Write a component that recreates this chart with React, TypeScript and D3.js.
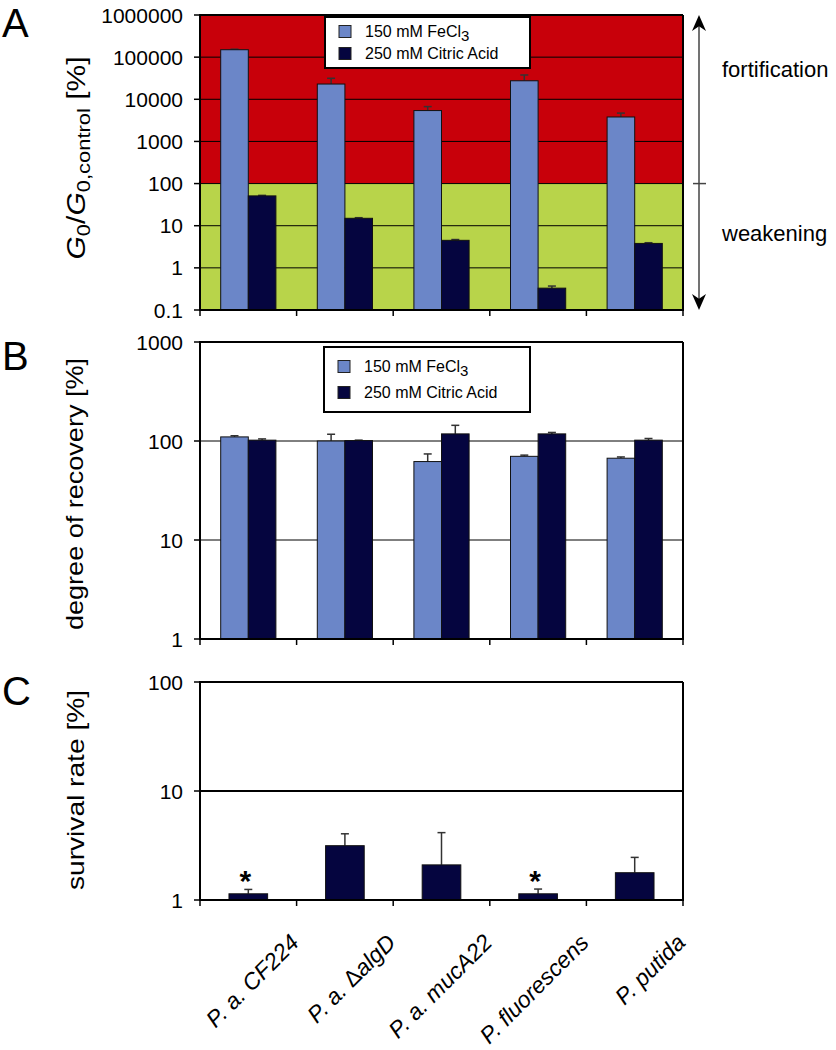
import React from "react";
import * as d3 from "d3";

// ---------- data ----------
const categories = ["P. a. CF224", "P. a. ΔalgD", "P. a. mucA22", "P. fluorescens", "P. putida"];
const seriesNames = ["150 mM FeCl3", "250 mM Citric Acid"];

const fecl3A = [150000, 23000, 5400, 27500, 3800];
const fecl3AErr = [4000, 8500, 1300, 10200, 900];
const citricA = [51, 15, 4.5, 0.33, 3.8];
const citricAErr = [1.5, 0.5, 0.2, 0.04, 0.15];

const fecl3B = [110, 100, 62, 70, 67];
const fecl3BErr = [3, 17, 12, 2, 2];
const citricB = [102, 101, 118, 118, 102];
const citricBErr = [3, 1, 26, 4, 4];

const survivalC = [1.14, 3.15, 2.1, 1.14, 1.78];
const survivalCErr = [0.11, 0.9, 2.05, 0.12, 0.68];
const significantC = [true, false, false, true, false];

const ticksA = [0.1, 1, 10, 100, 1000, 10000, 100000, 1000000];
const tickLabelsA = ["0.1", "1", "10", "100", "1000", "10000", "100000", "1000000"];
const ticksB = [1, 10, 100, 1000];
const tickLabelsB = ["1", "10", "100", "1000"];
const ticksC = [1, 10, 100];
const tickLabelsC = ["1", "10", "100"];

// ---------- styles ----------
const FONT = "'Liberation Sans', Arial, Helvetica, sans-serif";
const LIGHT = "#6b86c8";
const DARK = "#05053f";
const RED = "#c8000a";
const GREEN = "#b8d44a";

const X0 = 200;
const X1 = 683;

const xScale = d3.scaleBand<string>().domain(categories).range([X0, X1]).paddingInner(0).paddingOuter(0);
const sub2 = d3.scaleBand<string>().domain(seriesNames).range([0, xScale.bandwidth()]).paddingInner(0).paddingOuter(0.75);
const sub1 = d3.scaleBand<string>().domain([seriesNames[1]]).range([0, xScale.bandwidth()]).paddingInner(0).paddingOuter(0.75);

const yA = d3.scaleLog().domain([0.1, 1000000]).range([310, 15]);
const yB = d3.scaleLog().domain([1, 1000]).range([639, 342]);
const yC = d3.scaleLog().domain([1, 100]).range([900, 682]);

type Bars = { values: number[]; errs: number[]; color: string; series: string; band: d3.ScaleBand<string> };

function BarsG({ bars, y, base }: { bars: Bars; y: d3.ScaleLogarithmic<number, number>; base: number }) {
  const w = bars.band.bandwidth();
  return (
    <g>
      {categories.map((c, i) => {
        const x = (xScale(c) as number) + (bars.band(bars.series) as number);
        const top = y(bars.values[i]);
        const et = y(bars.values[i] + bars.errs[i]);
        const cx = x + w / 2;
        return (
          <g key={c}>
            <line x1={cx} x2={cx} y1={top} y2={et} stroke="#333" strokeWidth={1.5} />
            <line x1={cx - 4} x2={cx + 4} y1={et} y2={et} stroke="#333" strokeWidth={1.5} />
            <rect x={x} y={top} width={w} height={base - top} fill={bars.color} stroke="#111" strokeWidth={1} />
          </g>
        );
      })}
    </g>
  );
}

function YAxis({ y, ticks, labels, grid, gridWidth }: { y: d3.ScaleLogarithmic<number, number>; ticks: number[]; labels: string[]; grid: boolean; gridWidth?: (v: number) => number }) {
  return (
    <g>
      {ticks.map((t, i) => (
        <g key={t}>
          {grid && i > 0 && i < ticks.length - 1 && (
            <line x1={X0} x2={X1} y1={y(t)} y2={y(t)} stroke="#000" strokeWidth={gridWidth ? gridWidth(t) : 1} />
          )}
          <line x1={X0 - 6} x2={X0} y1={y(t)} y2={y(t)} stroke="#000" strokeWidth={1.5} />
          <text x={183} y={y(t)} dy="0.36em" textAnchor="end" fontSize={21} fontFamily={FONT}>
            {labels[i]}
          </text>
        </g>
      ))}
    </g>
  );
}

function Frame({ y0, y1 }: { y0: number; y1: number }) {
  return (
    <g>
      <line x1={X0} x2={X1} y1={y0} y2={y0} stroke="#000" strokeWidth={2} />
      <line x1={X1} x2={X1} y1={y0} y2={y1} stroke="#000" strokeWidth={2} />
      <line x1={X0} x2={X0} y1={y0 - 1} y2={y1 + 1} stroke="#000" strokeWidth={2} />
      <line x1={X0 - 1} x2={X1 + 1} y1={y1} y2={y1} stroke="#000" strokeWidth={2} />
      {d3.range(categories.length + 1).map((k) => {
        const x = X0 + k * xScale.step();
        return <line key={k} x1={x} x2={x} y1={y1} y2={y1 + 6} stroke="#000" strokeWidth={1.5} />;
      })}
    </g>
  );
}

function Legend({ x, y, w, h, rowGap }: { x: number; y: number; w: number; h: number; rowGap: number }) {
  const c1 = y + h / 2 - rowGap / 2;
  const c2 = y + h / 2 + rowGap / 2;
  return (
    <g fontFamily={FONT} fontSize={16}>
      <rect x={x} y={y} width={w} height={h} fill="#fff" stroke="#000" strokeWidth={2} />
      <rect x={x + 14} y={c1 - 6} width={12} height={12} fill={LIGHT} stroke="#222" strokeWidth={1} />
      <text x={x + 40} y={c1} dy="0.36em">
        150 mM FeCl<tspan fontSize={15} dy={4}>3</tspan>
      </text>
      <rect x={x + 14} y={c2 - 6} width={12} height={12} fill={DARK} stroke="#222" strokeWidth={1} />
      <text x={x + 40} y={c2} dy="0.36em">
        250 mM Citric Acid
      </text>
    </g>
  );
}

function Arrowhead({ x, y, dir }: { x: number; y: number; dir: number }) {
  const h = 16 * dir;
  return <path d={`M${x},${y} L${x - 7},${y - h} L${x},${y - h * 0.7} L${x + 7},${y - h} Z`} fill="#000" />;
}

function XLabel({ c, cx }: { c: string; cx: number }) {
  let content: React.ReactNode = c;
  if (c.includes("Δ")) {
    const [a, b] = c.split("Δ");
    content = (
      <>
        {a}
        <tspan fontStyle="normal" fontWeight={300}>Δ</tspan>
        {b}
      </>
    );
  }
  return (
    <text
      transform={`translate(${cx + 52},944) rotate(-45)`}
      textAnchor="end"
      fontSize={23}
      fontStyle="italic"
      fontFamily={FONT}
    >
      {content}
    </text>
  );
}

export default function App() {
  const barsA1: Bars = { values: fecl3A, errs: fecl3AErr, color: LIGHT, series: seriesNames[0], band: sub2 };
  const barsA2: Bars = { values: citricA, errs: citricAErr, color: DARK, series: seriesNames[1], band: sub2 };
  const barsB1: Bars = { values: fecl3B, errs: fecl3BErr, color: LIGHT, series: seriesNames[0], band: sub2 };
  const barsB2: Bars = { values: citricB, errs: citricBErr, color: DARK, series: seriesNames[1], band: sub2 };
  const barsC: Bars = { values: survivalC, errs: survivalCErr, color: DARK, series: seriesNames[1], band: sub1 };

  const arrowX = 699;

  return (
    <svg width={836} height={1050} style={{ position: "absolute", left: 0, top: 0, background: "#fff" }}>
      {/* ===== Panel A ===== */}
      <rect x={X0} y={yA(1000000)} width={X1 - X0} height={yA(100) - yA(1000000)} fill={RED} />
      <rect x={X0} y={yA(100)} width={X1 - X0} height={yA(0.1) - yA(100)} fill={GREEN} />
      <YAxis y={yA} ticks={ticksA} labels={tickLabelsA} grid={true} />
      <BarsG bars={barsA1} y={yA} base={yA(0.1)} />
      <BarsG bars={barsA2} y={yA} base={yA(0.1)} />
      <Frame y0={yA(1000000)} y1={yA(0.1)} />
      <Legend x={325} y={17} w={205} h={51} rowGap={22} />
      <text x={2} y={37} fontSize={40} fontFamily={FONT}>A</text>
      <text
        transform={`translate(85,158) rotate(-90)`}
        textAnchor="middle"
        fontSize={26}
        fontFamily={FONT}
        textLength={203}
        lengthAdjust="spacingAndGlyphs"
      >
        <tspan fontStyle="italic">G</tspan>
        <tspan fontSize={19} dy={5}>0</tspan>
        <tspan dy={-5}>/</tspan>
        <tspan fontStyle="italic">G</tspan>
        <tspan fontSize={19} dy={5}>0,control</tspan>
        <tspan dy={-5}> [%]</tspan>
      </text>
      {/* annotation arrow */}
      <line x1={arrowX} x2={arrowX} y1={yA(1000000) + 8} y2={yA(0.1) - 8} stroke="#444" strokeWidth={1.5} />
      <Arrowhead x={arrowX} y={yA(1000000)} dir={-1} />
      <Arrowhead x={arrowX} y={yA(0.1)} dir={1} />
      <line x1={arrowX - 6} x2={arrowX + 7} y1={yA(100)} y2={yA(100)} stroke="#444" strokeWidth={1.5} />
      <text x={722} y={77} fontSize={22} fontFamily={FONT}>fortification</text>
      <text x={722} y={241} fontSize={22} fontFamily={FONT}>weakening</text>

      {/* ===== Panel B ===== */}
      <YAxis y={yB} ticks={ticksB} labels={tickLabelsB} grid={true} />
      <BarsG bars={barsB1} y={yB} base={yB(1)} />
      <BarsG bars={barsB2} y={yB} base={yB(1)} />
      <Frame y0={yB(1000)} y1={yB(1)} />
      <Legend x={324} y={347} w={206} h={65} rowGap={26} />
      <text x={2} y={370} fontSize={40} fontFamily={FONT}>B</text>
      <text
        transform={`translate(83,494) rotate(-90)`}
        textAnchor="middle"
        fontSize={24}
        fontFamily={FONT}
        textLength={272}
        lengthAdjust="spacingAndGlyphs"
      >
        degree of recovery [%]
      </text>

      {/* ===== Panel C ===== */}
      <YAxis y={yC} ticks={ticksC} labels={tickLabelsC} grid={true} gridWidth={() => 2} />
      <BarsG bars={barsC} y={yC} base={yC(1)} />
      {categories.map((c, i) =>
        significantC[i] ? (
          <text
            key={c}
            x={(xScale(c) as number) + xScale.bandwidth() / 2 - 3}
            y={yC(survivalC[i] + survivalCErr[i]) + 2}
            textAnchor="middle"
            fontSize={30}
            fontWeight="bold"
            fontFamily={FONT}
          >
            *
          </text>
        ) : null
      )}
      <Frame y0={yC(100)} y1={yC(1)} />
      <text x={2} y={705} fontSize={40} fontFamily={FONT}>C</text>
      <text
        transform={`translate(84,790) rotate(-90)`}
        textAnchor="middle"
        fontSize={24}
        fontFamily={FONT}
        textLength={200}
        lengthAdjust="spacingAndGlyphs"
      >
        survival rate [%]
      </text>

      {/* x labels */}
      {categories.map((c) => (
        <XLabel key={c} c={c} cx={(xScale(c) as number) + xScale.bandwidth() / 2} />
      ))}
    </svg>
  );
}
